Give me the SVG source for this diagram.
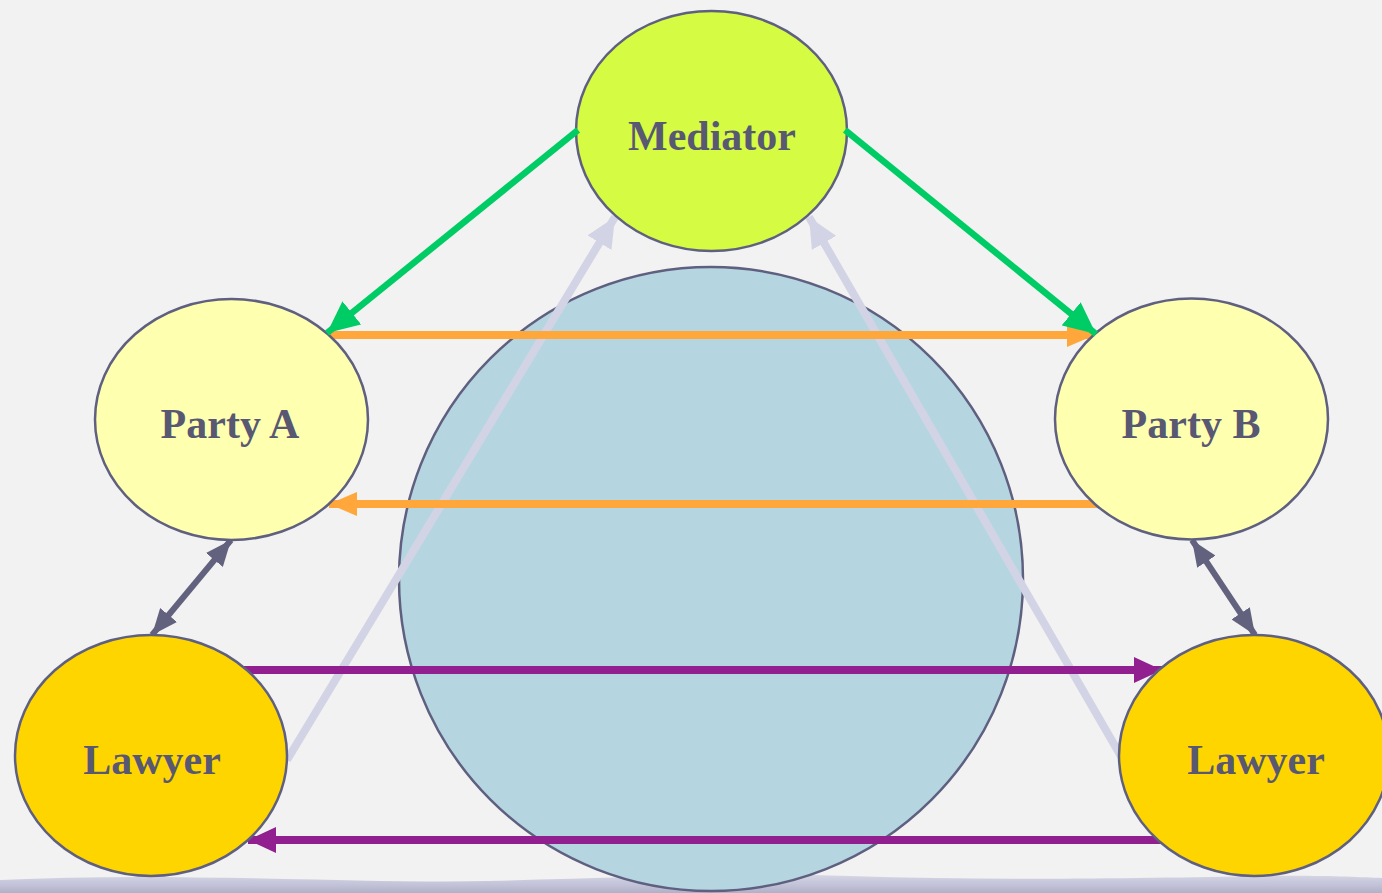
<svg xmlns="http://www.w3.org/2000/svg" width="1382" height="893" viewBox="0 0 1382 893">
  <style>
    .node { stroke: #5f5f80; stroke-width: 2.5; }
    .label { font-family: "Liberation Serif", "Times New Roman", serif; font-weight: bold; font-size: 42px; fill: #585873; text-anchor: middle; }
    .green { stroke: #00cc66; stroke-width: 6.5; fill: none; }
    .orange { stroke: #ffa73a; stroke-width: 8; fill: none; }
    .purple { stroke: #921f8f; stroke-width: 8; fill: none; }
    .lav { stroke: #d3d3e6; stroke-width: 8; fill: none; }
    .slate { stroke: #62627f; stroke-width: 6; fill: none; }
  </style>
  <defs>
    <marker id="hGreen" markerUnits="userSpaceOnUse" markerWidth="34" markerHeight="30" refX="32" refY="15" orient="auto">
      <path d="M0,0 L32,15 L0,30 Z" fill="#00cc66"/>
    </marker>
    <marker id="hOrange" markerUnits="userSpaceOnUse" markerWidth="30" markerHeight="24" refX="28" refY="12" orient="auto">
      <path d="M0,0 L28,12 L0,24 Z" fill="#ffa73a"/>
    </marker>
    <marker id="hPurple" markerUnits="userSpaceOnUse" markerWidth="30" markerHeight="26" refX="28" refY="13" orient="auto">
      <path d="M0,0 L28,13 L0,26 Z" fill="#921f8f"/>
    </marker>
    <marker id="hLav" markerUnits="userSpaceOnUse" markerWidth="32" markerHeight="28" refX="30" refY="14" orient="auto">
      <path d="M0,0 L30,14 L0,28 Z" fill="#d3d3e6"/>
    </marker>
    <marker id="hSlate" markerUnits="userSpaceOnUse" markerWidth="28" markerHeight="22" refX="26" refY="11" orient="auto-start-reverse">
      <path d="M0,0 L26,11 L0,22 Z" fill="#62627f"/>
    </marker>
    <linearGradient id="band" x1="0" y1="0" x2="0" y2="1">
      <stop offset="0" stop-color="#d6d6e6"/>
      <stop offset="0.5" stop-color="#c4c4da"/>
      <stop offset="1" stop-color="#b0b0c8"/>
    </linearGradient>
  </defs>

  <!-- paper background -->
  <rect x="0" y="0" width="1382" height="893" fill="#f2f2f2"/>
  <!-- wavy band along the bottom edge -->
  <path d="M0,880 C120,874 240,878 380,881 C520,884 700,871 850,876 C1000,881 1150,878 1260,876 C1320,875 1360,877 1382,878 L1382,893 L0,893 Z" fill="url(#band)"/>

  <!-- central circle -->
  <g id="common-ground">
    <circle cx="711" cy="579" r="312" fill="#b5d6e0" class="node"/>
  </g>

  <g id="connectors">
    <!-- lawyers to mediator -->
    <line class="lav" x1="287" y1="760" x2="615" y2="217" marker-end="url(#hLav)"/>
    <line class="lav" x1="1122" y1="758" x2="809" y2="217" marker-end="url(#hLav)"/>
    <!-- party to party -->
    <line class="orange" x1="325" y1="335" x2="1095" y2="335" marker-end="url(#hOrange)"/>
    <line class="orange" x1="1100" y1="504" x2="329" y2="504" marker-end="url(#hOrange)"/>
    <!-- lawyer to lawyer -->
    <line class="purple" x1="244" y1="670" x2="1162" y2="670" marker-end="url(#hPurple)"/>
    <line class="purple" x1="1163" y1="840" x2="248" y2="840" marker-end="url(#hPurple)"/>
    <!-- party to own lawyer -->
    <line class="slate" x1="152" y1="635" x2="231" y2="540" marker-start="url(#hSlate)" marker-end="url(#hSlate)"/>
    <line class="slate" x1="1192" y1="540" x2="1255" y2="635" marker-start="url(#hSlate)" marker-end="url(#hSlate)"/>
  </g>

  <g id="mediator">
    <ellipse cx="711.5" cy="131" rx="135.5" ry="120" fill="#d5fb43" class="node"/>
    <text class="label" x="712" y="150">Mediator</text>
  </g>
  <g id="party-a">
    <ellipse cx="231.5" cy="419.5" rx="136.5" ry="120.5" fill="#ffffb0" class="node"/>
    <text class="label" x="230" y="438">Party A</text>
  </g>
  <g id="party-b">
    <ellipse cx="1191.5" cy="419" rx="136.5" ry="120.5" fill="#ffffb0" class="node"/>
    <text class="label" x="1191" y="438">Party B</text>
  </g>
  <g id="lawyer-a">
    <ellipse cx="151" cy="755.5" rx="136" ry="120.5" fill="#ffd500" class="node"/>
    <text class="label" x="152" y="774">Lawyer</text>
  </g>
  <g id="lawyer-b">
    <ellipse cx="1254" cy="755.5" rx="135" ry="120.5" fill="#ffd500" class="node"/>
    <text class="label" x="1256" y="774">Lawyer</text>
  </g>

  <!-- mediator outreach, drawn over the party outlines -->
  <g id="connectors-mediator">
    <line class="green" x1="578" y1="130" x2="327" y2="333" marker-end="url(#hGreen)"/>
    <line class="green" x1="845" y1="130" x2="1096" y2="334" marker-end="url(#hGreen)"/>
  </g>
</svg>
